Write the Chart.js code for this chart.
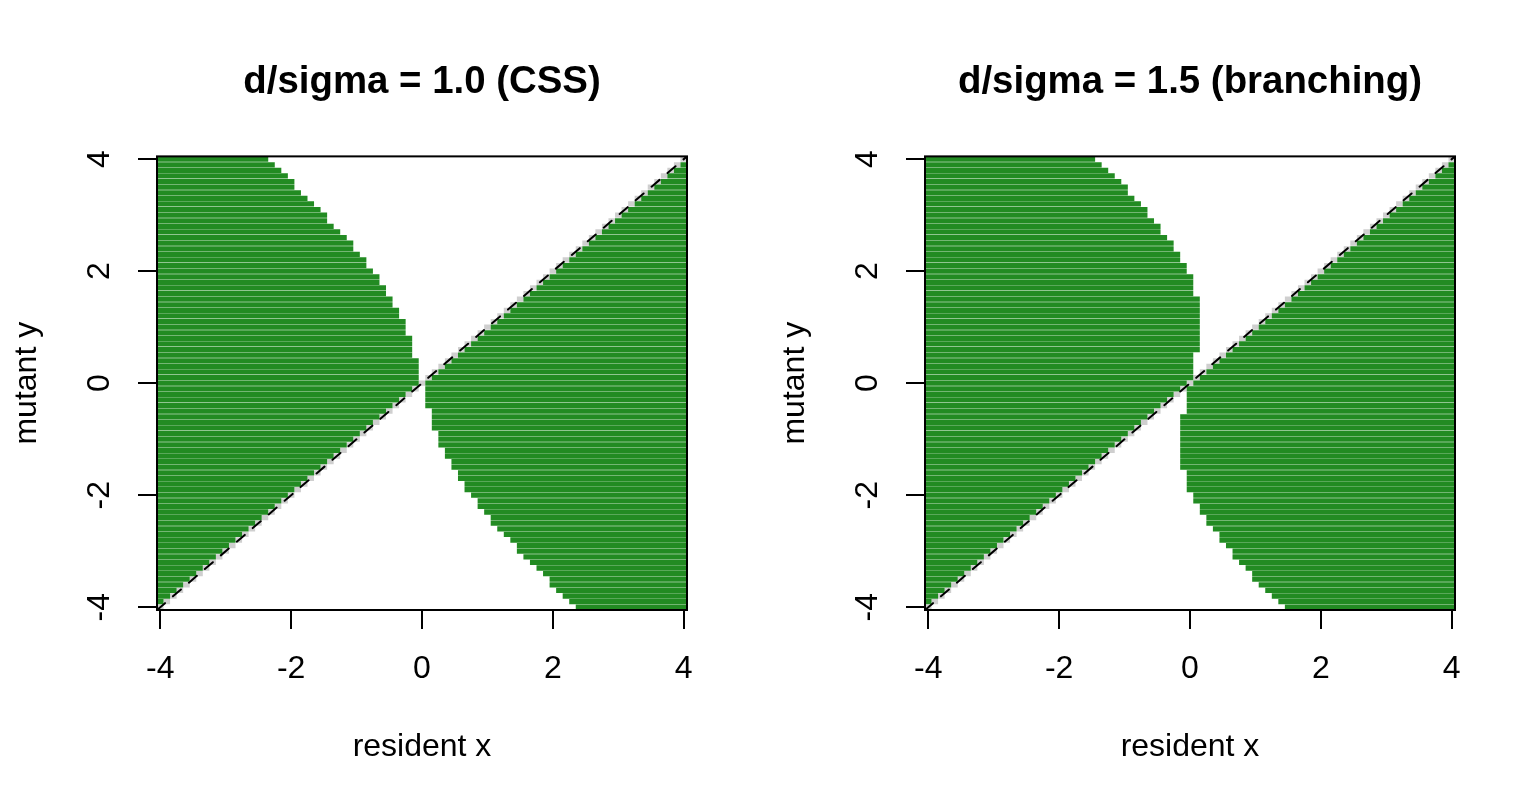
<!DOCTYPE html>
<html>
<head>
<meta charset="utf-8">
<script src="https://cdn.jsdelivr.net/npm/chart.js@4.4.0/dist/chart.umd.min.js"></script>
<style>
  html, body { margin: 0; padding: 0; background: #fff; overflow: hidden; }
  .panel { position: absolute; top: 0; width: 768px; height: 806px; }
</style>
</head>
<body>
<div class="panel" style="left:0"><canvas id="pipCSS" width="768" height="806"></canvas></div>
<div class="panel" style="left:768px"><canvas id="pipBranch" width="768" height="806"></canvas></div>
<script>
// axis ticks shared by both panels
const tickVals = [-4, -2, 0, 2, 4];

// grid of the image: 81 x 81 cells, step 0.1, from -4 to 4
const gridStep = 0.1;
const gridCount = 40; // cells on each side of 0

// last green column (cell centre) of the upper-left region, for rows y = 0.1 .. 4.0
// (the lower-right region is its mirror image through the origin)
const edgeCSS = [
  -0.1, -0.1, -0.1, -0.1, -0.2, -0.2, -0.2, -0.2, -0.3, -0.3,
  -0.3, -0.4, -0.4, -0.5, -0.5, -0.6, -0.6, -0.7, -0.7, -0.8,
  -0.9, -0.9, -1.0, -1.1, -1.1, -1.2, -1.3, -1.4, -1.5, -1.5,
  -1.6, -1.7, -1.8, -1.9, -2.0, -2.0, -2.1, -2.2, -2.3, -2.4
];
const edgeBranch = [
  0.0, 0.0, 0.0, 0.0, 0.0, 0.1, 0.1, 0.1, 0.1, 0.1,
  0.1, 0.1, 0.1, 0.1, 0.1, 0.0, 0.0, 0.0, 0.0, -0.1,
  -0.1, -0.2, -0.2, -0.3, -0.3, -0.4, -0.5, -0.5, -0.6, -0.7,
  -0.7, -0.8, -0.9, -1.0, -1.0, -1.1, -1.2, -1.3, -1.4, -1.5
];

const titles = ['d/sigma = 1.0 (CSS)', 'd/sigma = 1.5 (branching)'];
const xLabel = 'resident x';
const yLabel = 'mutant y';

const green = '#228B22';
const zeroGrey = '#cfcfcf';
const fontFamily = '"Liberation Sans", Arial, Helvetica, sans-serif';
const half = gridStep / 2;
const lim = gridCount * gridStep + half;

Chart.defaults.color = '#000';

// turn the edge list into floating bar segments, one row per y cell
function buildRows(edges) {
  const left = [], right = [], zero = [];
  for (let k = -gridCount; k <= gridCount; k++) {
    const y = k / 10;
    let leftEnd, rightStart;
    if (k > 0) {
      leftEnd = edges[k - 1] + half;
      rightStart = y + half;
    } else if (k < 0) {
      leftEnd = y - half;
      rightStart = -edges[-k - 1] - half;
    } else {
      leftEnd = -half;
      rightStart = half;
    }
    if (leftEnd > -lim + 1e-9) left.push({ y: y, x: [-lim, leftEnd] });
    if (rightStart < lim - 1e-9) right.push({ y: y, x: [rightStart, lim] });
    zero.push({ y: y, x: [y - half, y + half] });
  }
  return { left, right, zero };
}

const plotBox = {
  id: 'plotBox',
  afterDraw(chart) {
    const { ctx, chartArea: a } = chart;
    ctx.save();
    ctx.strokeStyle = '#000';
    ctx.lineWidth = 2;
    ctx.strokeRect(a.left, a.top, a.right - a.left, a.bottom - a.top);
    ctx.restore();
  }
};

function cellSet(data, colour) {
  return {
    data: data,
    backgroundColor: colour,
    borderWidth: 0,
    grouped: false,
    barPercentage: 0.94,
    categoryPercentage: 1,
    order: 1
  };
}

function makeChart(id, title, edges) {
  const rows = buildRows(edges);
  const axisFont = { family: fontFamily, size: 32 };
  const ticksFor = s => { s.ticks = tickVals.map(v => ({ value: v })); };

  return new Chart(document.getElementById(id), {
    type: 'bar',
    data: {
      datasets: [
        {
          type: 'line',
          data: [{ x: -lim, y: -lim }, { x: lim, y: lim }],
          borderColor: '#000',
          borderWidth: 2,
          borderDash: [10.5, 10.5],
          borderCapStyle: 'round',
          pointRadius: 0,
          fill: false,
          order: 0
        },
        cellSet(rows.left, green),
        cellSet(rows.right, green),
        cellSet(rows.zero, zeroGrey)
      ]
    },
    options: {
      indexAxis: 'y',
      responsive: false,
      animation: false,
      events: [],
      layout: { padding: { left: 0, right: 81, top: 0, bottom: 0 } },
      plugins: {
        legend: { display: false },
        tooltip: { enabled: false },
        title: {
          display: true,
          text: title,
          fullSize: false,
          color: '#000',
          font: { family: fontFamily, size: 38.4, weight: 'bold' },
          padding: { top: 59, bottom: 51.3 }
        }
      },
      scales: {
        x: {
          type: 'linear',
          min: -lim,
          max: lim,
          afterBuildTicks: ticksFor,
          afterFit: s => { s.height = 196; },
          grid: { drawOnChartArea: false, tickLength: 19, color: '#000', lineWidth: 2 },
          border: { display: false },
          ticks: { font: axisFont, padding: 21, maxRotation: 0, autoSkip: false },
          title: { display: true, text: xLabel, font: axisFont, padding: { top: 0, bottom: 40 } }
        },
        y: {
          type: 'linear',
          offset: false,
          min: -lim,
          max: lim,
          afterBuildTicks: ticksFor,
          afterFit: s => { s.width = 157; },
          grid: { offset: false, drawOnChartArea: false, tickLength: 19, color: '#000', lineWidth: 2 },
          border: { display: false },
          ticks: { font: axisFont, padding: 24, minRotation: 90, maxRotation: 90, crossAlign: 'center', autoSkip: false },
          title: { display: true, text: yLabel, font: axisFont, padding: { top: 8, bottom: 0 } }
        }
      }
    },
    plugins: [plotBox]
  });
}

makeChart('pipCSS', titles[0], edgeCSS);
makeChart('pipBranch', titles[1], edgeBranch);
</script>
</body>
</html>
